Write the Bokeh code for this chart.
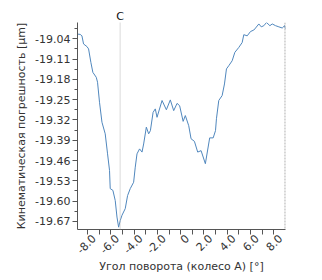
import math
from bokeh.plotting import figure
from bokeh.models import FixedTicker, Span, Range1d, LinearAxis
from bokeh.embed import file_html
from bokeh.resources import INLINE

# Curve data (rotation angle [deg], kinematic error [um])
angle = [-8.86, -8.63, -8.48, -8.34, -8.05, -7.91, -7.71, -7.54, -7.25, -7.14,
         -6.97, -6.76, -6.48, -6.28, -6.11, -6.05, -5.82, -5.62, -5.47, -5.33,
         -5.19, -5.04, -4.76, -4.56, -4.33, -4.04, -3.90, -3.75, -3.53, -3.32,
         -3.18, -2.95, -2.75, -2.60, -2.37, -2.18, -2.03, -1.60, -1.23, -0.89,
         -0.60, -0.31, -0.09, 0.21, 0.40, 0.69, 0.89, 1.18, 1.46, 1.75,
         2.12, 2.49, 2.79, 2.99, 3.07, 3.27, 3.56, 3.76, 3.93, 4.13,
         4.42, 4.65, 4.99, 5.28, 5.42, 5.71, 6.00, 6.28, 6.43, 6.71,
         6.92, 7.14, 7.37, 7.66, 7.86, 8.15, 8.43, 8.72, 8.92, 9.00]
error = [-19.024, -19.025, -19.030, -19.058, -19.067, -19.075, -19.122, -19.156, -19.173, -19.190,
         -19.259, -19.328, -19.368, -19.437, -19.494, -19.557, -19.563, -19.598, -19.655, -19.690,
         -19.667, -19.649, -19.626, -19.581, -19.557, -19.535, -19.483, -19.437, -19.420, -19.431,
         -19.403, -19.345, -19.368, -19.357, -19.294, -19.282, -19.311, -19.253, -19.285, -19.251,
         -19.288, -19.263, -19.271, -19.325, -19.305, -19.340, -19.385, -19.394, -19.431, -19.426,
         -19.471, -19.382, -19.382, -19.357, -19.316, -19.253, -19.236, -19.196, -19.144, -19.133,
         -19.116, -19.087, -19.070, -19.053, -19.026, -19.030, -19.015, -19.010, -19.003, -18.989,
         -18.999, -18.995, -18.984, -18.995, -18.989, -18.995, -18.999, -19.003, -18.995, -19.006]

x_ticks = [-8, -6, -4, -2, 0, 2, 4, 6, 8]
x_tick_labels = ["-8.0", "-6.0", "-4.0", "-2.0", "0", "2.0", "4.0", "6.0", "8.0"]
x_minor = [-7, -5, -3, -1, 1, 3, 5, 7]
y_ticks = [-19.67, -19.60, -19.53, -19.46, -19.39, -19.32, -19.25, -19.18, -19.11, -19.04]
y_tick_labels = ["-19.67", "-19.60", "-19.53", "-19.46", "-19.39", "-19.32", "-19.25", "-19.18", "-19.11", "-19.04"]
cursor_c = -5.2
cursor_c_label = "C"
cursor_end = 8.97

X0, X1 = -8.86, 9.0
LABEL_SHIFT = 0.55  # shifts rotated tick labels slightly right of their ticks

FONT = "DejaVu Sans"
TXT = "#333333"

p = figure(frame_width=208, frame_height=207, output_backend="svg", toolbar_location=None,
           x_range=Range1d(X0, X1), y_range=Range1d(-19.698, -18.984),
           min_border_left=77, min_border_right=29, min_border_top=22, min_border_bottom=43,
           y_axis_label="Кинематическая погрешность [µm]")
p.outline_line_color = None
p.grid.visible = False
p.background_fill_color = "white"
p.border_fill_color = "white"
p.extra_x_ranges = {"lbl": Range1d(X0 - LABEL_SHIFT, X1 - LABEL_SHIFT)}

xax = p.below[0]
yax = p.left[0]

p.line(angle, error, line_color="#5087bd", line_width=1)

p.add_layout(Span(location=cursor_c, dimension="height", line_color="#b4b4b4",
                  line_dash="1 1", line_width=1))
p.add_layout(Span(location=cursor_end, dimension="height", line_color="#8a8a8a",
                  line_dash="2 1", line_width=1))

top_axis = LinearAxis(ticker=FixedTicker(ticks=[cursor_c], minor_ticks=[]),
                      major_label_overrides={cursor_c: cursor_c_label},
                      axis_line_color=None, major_tick_line_color=None,
                      minor_tick_line_color=None, major_label_standoff=0,
                      major_tick_out=0, major_tick_in=0,
                      major_label_text_font=FONT, major_label_text_font_size="11px",
                      major_label_text_color="#111111")
p.add_layout(top_axis, "above")

# bottom axis: line and ticks only (all ticks drawn as unlabeled minor ticks)
xax.ticker = FixedTicker(ticks=[], minor_ticks=sorted(x_ticks + x_minor))
xax.major_label_standoff = 0
xax.major_tick_out = 0
xax.major_tick_in = 0
xax.axis_line_color = "#555555"
xax.minor_tick_line_color = "#555555"
xax.minor_tick_in = 0
xax.minor_tick_out = 5

# bottom labels + title
lbl_axis = LinearAxis(x_range_name="lbl",
                      ticker=FixedTicker(ticks=x_ticks, minor_ticks=[]),
                      major_label_overrides=dict(zip(x_ticks, x_tick_labels)),
                      major_label_orientation=math.pi / 4,
                      axis_line_color=None, major_tick_line_color=None,
                      minor_tick_line_color=None, major_tick_out=0, major_tick_in=0,
                      major_label_standoff=2,
                      major_label_text_font=FONT, major_label_text_font_size="11px",
                      major_label_text_color=TXT,
                      axis_label="Угол поворота (колесо A) [°]",
                      axis_label_text_font=FONT, axis_label_text_font_size="11px",
                      axis_label_text_font_style="normal", axis_label_text_color=TXT,
                      axis_label_standoff=0)
p.add_layout(lbl_axis, "below")

yax.ticker = FixedTicker(ticks=y_ticks, minor_ticks=[v + 0.035 for v in y_ticks])
yax.major_label_overrides = dict(zip(y_ticks, y_tick_labels))
yax.axis_line_color = "#555555"
yax.major_tick_line_color = "#555555"
yax.minor_tick_line_color = "#555555"
yax.major_tick_in = 0
yax.minor_tick_in = 0
yax.major_tick_out = 5
yax.minor_tick_out = 3
yax.major_label_text_font = FONT
yax.major_label_text_font_size = "11px"
yax.major_label_text_color = TXT
yax.major_label_standoff = 2
yax.axis_label_text_font = FONT
yax.axis_label_text_font_size = "11px"
yax.axis_label_text_font_style = "normal"
yax.axis_label_text_color = TXT
yax.axis_label_standoff = 4

open("out.html", "w").write(file_html(p, INLINE))
